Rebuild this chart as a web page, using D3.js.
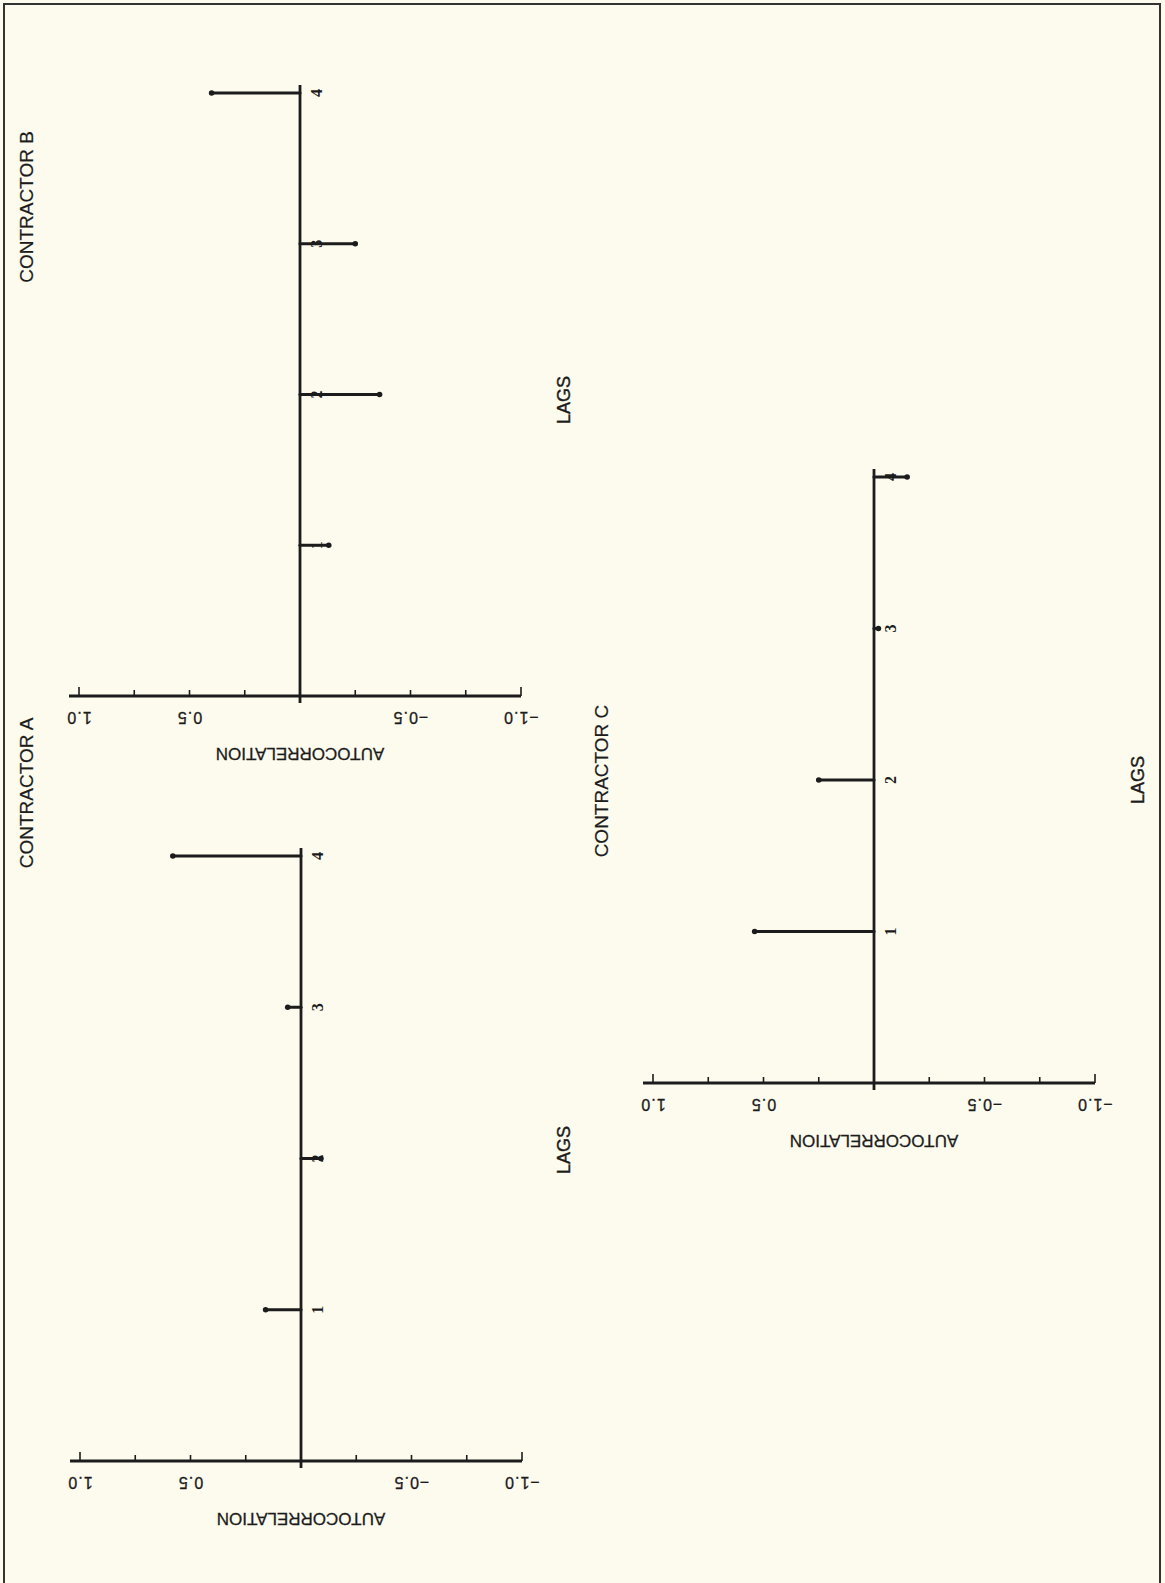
<!DOCTYPE html>
<html><head><meta charset="utf-8">
<script src="https://cdn.jsdelivr.net/npm/d3@7/dist/d3.min.js"></script>
<style>
html,body{margin:0;padding:0;background:#fcfbee;}
svg{display:block;}
</style></head>
<body>
<script>
// ---- data ----
const lags = [1, 2, 3, 4];
const lagLabels = ["1", "2", "3", "4"];
const acfA = [0.16, -0.09, 0.06, 0.58];
const acfB = [-0.13, -0.36, -0.25, 0.40];
const acfC = [0.54, 0.25, -0.02, -0.15];
const tickValues = [1.0, 0.5, -0.5, -1.0];
const tickLabels = ["1.0", "0.5", "\u22120.5", "\u22121.0"];
const minorTicks = [1.0, 0.75, 0.5, 0.25, 0, -0.25, -0.5, -0.75, -1.0];
const titles = ["CONTRACTOR A", "CONTRACTOR B", "CONTRACTOR C"];

const W = 1165, H = 1583;
const ink = "#1c1c1c";
const svg = d3.select("body").append("svg").attr("width", W).attr("height", H);
svg.append("rect").attr("width", W).attr("height", H).attr("fill", "#fcfbee");

// page border (left, top, right)
svg.append("path").attr("d", `M4,${H} L4,4 L1160,4 L1160,${H}`)
  .attr("fill", "none").attr("stroke", "#333").attr("stroke-width", 2);

const panels = [
  {values: acfA, title: titles[0], xL: 80, xR: 522, axisY: 1461, lagTop: 856, titleX: 28, titleY: 793, lagsX: 565, lagsY: 1150},
  {values: acfB, title: titles[1], xL: 79, xR: 521, axisY: 696, lagTop: 93, titleX: 28, titleY: 207, lagsX: 565, lagsY: 400},
  {values: acfC, title: titles[2], xL: 653, xR: 1095, axisY: 1083, lagTop: 477, titleX: 603, titleY: 781, lagsX: 1139, lagsY: 780}
];

panels.forEach(p => {
  const g = svg.append("g");
  const x = d3.scaleLinear().domain([1, -1]).range([p.xL, p.xR]);
  const y = d3.scaleLinear().domain([0, 4]).range([p.axisY, p.lagTop]);
  const x0 = x(0);

  // autocorrelation axis line
  g.append("line").attr("x1", x(1) - 10).attr("x2", x(-1)).attr("y1", p.axisY).attr("y2", p.axisY)
    .attr("stroke", ink).attr("stroke-width", 2.8);
  // ticks (pointing up)
  g.selectAll(".tk").data(minorTicks).enter().append("line")
    .attr("x1", d => x(d)).attr("x2", d => x(d))
    .attr("y1", p.axisY).attr("y2", d => p.axisY - (Math.abs(d) === 1 ? 9 : 6))
    .attr("stroke", ink).attr("stroke-width", 1.6);
  // tick labels (upside down)
  g.selectAll(".tl").data(tickValues).enter().append("text")
    .attr("transform", (d) => `translate(${x(d)},${p.axisY + 20}) rotate(180)`)
    .attr("text-anchor", "middle").attr("dominant-baseline", "middle")
    .attr("font-family", "Liberation Sans, Arial, sans-serif").attr("font-size", 16)
    .attr("letter-spacing", 1).attr("fill", ink).attr("stroke", ink).attr("stroke-width", 0.3)
    .text((d, i) => tickLabels[i]);
  // axis title (upside down)
  g.append("text")
    .attr("transform", `translate(${x0},${p.axisY + 56}) rotate(180)`)
    .attr("text-anchor", "middle").attr("dominant-baseline", "middle")
    .attr("font-family", "Liberation Sans, Arial, sans-serif").attr("font-size", 17)
    .attr("fill", ink).attr("stroke", ink).attr("stroke-width", 0.3).text("AUTOCORRELATION");

  // lag axis (vertical)
  g.append("line").attr("x1", x0).attr("x2", x0).attr("y1", p.axisY + 7).attr("y2", y(4) - 8)
    .attr("stroke", ink).attr("stroke-width", 2.8);

  // lag labels
  g.selectAll(".ll").data(lags).enter().append("text")
    .attr("transform", d => `translate(${x0 + 18},${y(d)}) rotate(-90)`)
    .attr("text-anchor", "middle").attr("dominant-baseline", "middle")
    .attr("font-family", "Liberation Serif, Times New Roman, serif").attr("font-size", 16)
    .attr("font-weight", "bold").attr("fill", ink)
    .text((d, i) => lagLabels[i]);

  // spikes
  g.selectAll(".sp").data(lags).enter().append("line")
    .attr("x1", x0).attr("x2", (d, i) => x(p.values[i]))
    .attr("y1", d => y(d)).attr("y2", d => y(d))
    .attr("stroke", ink).attr("stroke-width", 3.2).attr("stroke-linecap", "round");
  g.selectAll(".dt").data(lags).enter().append("circle")
    .attr("cx", (d, i) => x(p.values[i])).attr("cy", d => y(d)).attr("r", 2.8)
    .attr("fill", ink);

  // title
  g.append("text")
    .attr("transform", `translate(${p.titleX},${p.titleY}) rotate(-90)`)
    .attr("text-anchor", "middle").attr("dominant-baseline", "middle")
    .attr("font-family", "Liberation Sans, Arial, sans-serif").attr("font-size", 19)
    .attr("fill", ink).attr("stroke", ink).attr("stroke-width", 0.2).text(p.title);
  // LAGS
  g.append("text")
    .attr("transform", `translate(${p.lagsX},${p.lagsY}) rotate(-90)`)
    .attr("text-anchor", "middle").attr("dominant-baseline", "middle")
    .attr("font-family", "Liberation Sans, Arial, sans-serif").attr("font-size", 18)
    .attr("fill", ink).attr("stroke", ink).attr("stroke-width", 0.4).text("LAGS");
});
</script>
</body></html>
